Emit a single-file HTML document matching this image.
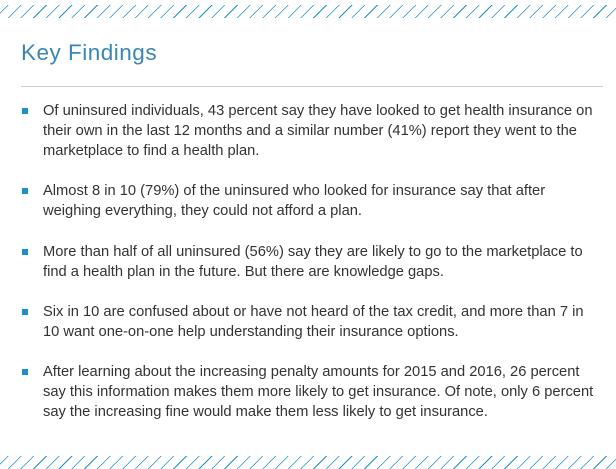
<!DOCTYPE html>
<html><head><meta charset="utf-8"><style>
body{margin:0;width:616px;height:469px;background:#fff;position:relative;overflow:hidden;font-family:"Liberation Sans",sans-serif;}
.hatch{position:absolute;left:0;width:616px;height:13px;background:repeating-linear-gradient(135deg,transparent 0 5.5px,#1a8fc8 5.5px 6.3px,transparent 6.3px 9px);}
h1{position:absolute;left:21px;top:40px;margin:0;font-weight:normal;font-size:22.5px;color:#3a86b4;letter-spacing:0.5px;}
.rule{position:absolute;left:21px;top:86px;width:582px;height:1px;background:#cfcfcf;}
.item{position:absolute;left:43px;font-size:14.7px;line-height:20px;color:#333;white-space:nowrap;}
.sq{position:absolute;left:-21px;top:7px;width:6px;height:6px;background:#1a8fc8;}
</style></head><body>
<div class="hatch" style="top:5px"></div>
<h1>Key Findings</h1>
<div class="rule"></div>
<div class="item" style="top:101px"><span class="sq"></span>Of uninsured individuals, 43 percent say they have looked to get health insurance on<br>their own in the last 12 months and a similar number (41%) report they went to the<br>marketplace to find a health plan.</div>
<div class="item" style="top:181px"><span class="sq"></span>Almost 8 in 10 (79%) of the uninsured who looked for insurance say that after<br>weighing everything, they could not afford a plan.</div>
<div class="item" style="top:242px"><span class="sq"></span>More than half of all uninsured (56%) say they are likely to go to the marketplace to<br>find a health plan in the future. But there are knowledge gaps.</div>
<div class="item" style="top:302px"><span class="sq"></span>Six in 10 are confused about or have not heard of the tax credit, and more than 7 in<br>10 want one-on-one help understanding their insurance options.</div>
<div class="item" style="top:362px"><span class="sq"></span>After learning about the increasing penalty amounts for 2015 and 2016, 26 percent<br>say this information makes them more likely to get insurance. Of note, only 6 percent<br>say the increasing fine would make them less likely to get insurance.</div>
<div class="hatch" style="top:456px"></div>
</body></html>
